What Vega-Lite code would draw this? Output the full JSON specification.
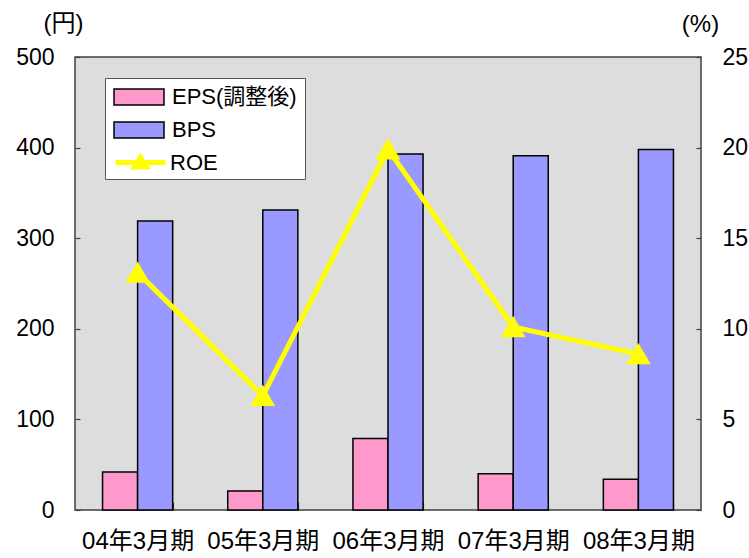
{
  "$schema": "https://vega.github.io/schema/vega-lite/v6.json",
  "width": 626,
  "height": 453,
  "autosize": {"type": "none"},
  "padding": {"left": 75, "top": 57, "right": 48, "bottom": 48},
  "background": "white",
  "config": {
    "font": "Liberation Sans, Noto Sans CJK JP",
    "view": {"fill": "#DDDDDD", "stroke": "#404040", "strokeWidth": 1.5},
    "axis": {
      "labelFont": "Liberation Sans, Noto Sans CJK JP",
      "titleFont": "Liberation Sans, Noto Sans CJK JP",
      "labelColor": "black",
      "titleColor": "black",
      "grid": false,
      "domain": false,
      "tickColor": "#404040",
      "tickWidth": 1.2
    },
    "legend": {
      "labelFont": "Liberation Sans, Noto Sans CJK JP",
      "titleFont": "Liberation Sans, Noto Sans CJK JP",
      "labelColor": "black",
      "labelFontSize": 22
    }
  },
  "datasets": {
    "bars": [
      {"period": "04年3月期", "series": "EPS(調整後)", "value": 42},
      {"period": "04年3月期", "series": "BPS", "value": 319},
      {"period": "05年3月期", "series": "EPS(調整後)", "value": 21},
      {"period": "05年3月期", "series": "BPS", "value": 331},
      {"period": "06年3月期", "series": "EPS(調整後)", "value": 79},
      {"period": "06年3月期", "series": "BPS", "value": 393},
      {"period": "07年3月期", "series": "EPS(調整後)", "value": 40},
      {"period": "07年3月期", "series": "BPS", "value": 391},
      {"period": "08年3月期", "series": "EPS(調整後)", "value": 34},
      {"period": "08年3月期", "series": "BPS", "value": 398}
    ],
    "roe": [
      {"period": "04年3月期", "series": "ROE", "roe": 13.1},
      {"period": "05年3月期", "series": "ROE", "roe": 6.3},
      {"period": "06年3月期", "series": "ROE", "roe": 19.9},
      {"period": "07年3月期", "series": "ROE", "roe": 10.1},
      {"period": "08年3月期", "series": "ROE", "roe": 8.6}
    ]
  },
  "layer": [
    {
      "data": {"name": "bars"},
      "mark": {"type": "bar", "stroke": "black", "strokeWidth": 1.5},
      "encoding": {
        "x": {
          "field": "period",
          "type": "nominal",
          "sort": null,
          "scale": {"paddingInner": 0.44, "paddingOuter": 0.22},
          "axis": {
            "title": null,
            "labelAngle": 0,
            "labelFontSize": 24,
            "tickBand": "extent",
            "tickSize": -8,
            "labelPadding": 27
          }
        },
        "xOffset": {"field": "series", "type": "nominal", "sort": ["EPS(調整後)", "BPS"]},
        "y": {
          "field": "value",
          "type": "quantitative",
          "scale": {"domain": [0, 500]},
          "axis": {
            "values": [0, 100, 200, 300, 400, 500],
            "tickSize": -5,
            "labelPadding": 26,
            "labelFontSize": 23,
            "title": "(円)",
            "titleAngle": 0,
            "titleX": -12,
            "titleY": -34,
            "titleAlign": "center",
            "titleBaseline": "middle",
            "titleFontSize": 24,
            "titleFontWeight": "normal"
          }
        },
        "fill": {
          "field": "series",
          "type": "nominal",
          "scale": {"domain": ["EPS(調整後)", "BPS"], "range": ["#FF99CC", "#9999FF"]},
          "legend": {
            "orient": "none",
            "legendX": 30,
            "legendY": 21,
            "zindex": 0,
            "title": "\u3000",
            "titleOrient": "bottom",
            "titleFontSize": 22,
            "titlePadding": 9,
            "fillColor": "white",
            "strokeColor": "#555555",
            "padding": 8,
            "rowPadding": 11,
            "symbolSize": 400,
            "symbolType": "M-1,-0.8H4V0.8H-1Z",
            "symbolStrokeColor": "black",
            "symbolStrokeWidth": 1.5,
            "labelOffset": 37
          }
        }
      }
    },
    {
      "data": {"name": "roe"},
      "mark": {"type": "line", "strokeWidth": 5, "point": {"shape": "triangle-up", "size": 450, "filled": true, "fill": "#FFFF00", "opacity": 1}},
      "encoding": {
        "x": {"field": "period", "type": "nominal", "sort": null},
        "y": {
          "field": "roe",
          "type": "quantitative",
          "scale": {"domain": [0, 25]},
          "axis": {
            "orient": "right",
            "values": [0, 5, 10, 15, 20, 25],
            "tickSize": -5,
            "labelPadding": 26,
            "labelFontSize": 23,
            "title": "(%)",
            "titleAngle": 0,
            "titleX": -1,
            "titleY": -33,
            "titleAlign": "center",
            "titleBaseline": "middle",
            "titleFontSize": 24,
            "titleFontWeight": "normal"
          }
        },
        "stroke": {
          "field": "series",
          "type": "nominal",
          "scale": {"domain": ["ROE"], "range": ["#FFFF00"]},
          "legend": {
            "orient": "none",
            "legendX": 30,
            "legendY": 85,
            "zindex": 1,
            "title": null,
            "padding": 8,
            "symbolSize": 400,
            "symbolType": "M-1,0H4M1.5,-0.5L2.1,0.45L0.9,0.45Z",
            "symbolStrokeWidth": 5,
            "symbolFillColor": "#FFFF00",
            "labelOffset": 32
          }
        }
      }
    }
  ],
  "resolve": {"scale": {"y": "independent"}}
}
